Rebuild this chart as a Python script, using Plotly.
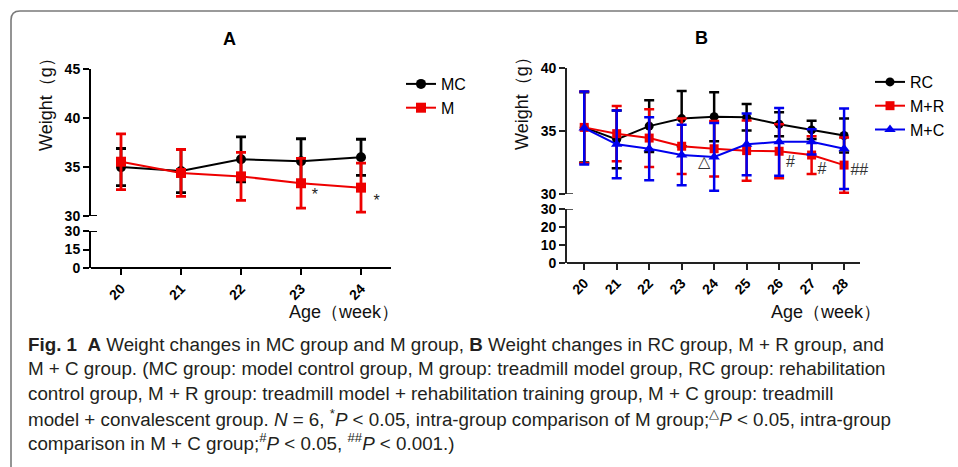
import plotly.graph_objects as go

W, H = 958, 467


def fx(p):
    return p / W


def fy(p):
    return 1 - p / H


# ---------------- data ----------------
weeks_a = [20, 21, 22, 23, 24]
mc_mean = [35.0, 34.6, 35.8, 35.6, 36.0]
mc_sd = [1.9, 2.2, 2.3, 2.3, 1.85]
m_mean = [35.55, 34.4, 34.05, 33.35, 32.9]
m_sd = [2.85, 2.4, 2.45, 2.55, 2.5]

weeks_b = [20, 21, 22, 23, 24, 25, 26, 27, 28]
rc_mean = [35.3, 34.35, 35.4, 36.0, 36.15, 36.1, 35.55, 35.1, 34.65]
rc_sd = [2.8, 2.3, 2.05, 2.2, 1.95, 1.05, 0.95, 0.72, 1.35]
mr_mean = [35.3, 34.8, 34.45, 33.8, 33.6, 33.45, 33.4, 33.1, 32.3]
mr_sd = [2.85, 2.2, 2.3, 2.2, 2.2, 2.4, 2.15, 1.5, 2.2]
mcv_mean = [35.25, 33.95, 33.6, 33.1, 32.95, 33.95, 34.15, 34.15, 33.6]
mcv_sd = [2.9, 2.7, 2.5, 2.4, 2.7, 2.45, 2.7, 1.0, 3.2]

sig_a_x = [23.23, 24.26]
sig_a_y = [32.0, 31.4]
sig_a_text = ["*", "*"]

sig_b_x = [23.68, 26.35, 27.32, 28.47]
sig_b_y = [32.46, 32.46, 31.88, 31.8]
sig_b_text = ["△", "#", "#", "##"]

ticks_a_upper = [30, 35, 40, 45]
ticks_a_lower = [0, 15, 30]
ticks_b_upper = [30, 35, 40]
ticks_b_lower = [0, 10, 20, 30]

caption_lines = [
    "<b>Fig. 1</b>  <b>A</b> Weight changes in MC group and M group, <b>B</b> Weight changes in RC group, M + R group, and",
    "M + C group. (MC group: model control group, M group: treadmill model group, RC group: rehabilitation",
    "control group, M + R group: treadmill model + rehabilitation training group, M + C group: treadmill",
    "model + convalescent group. <i>N</i> = 6, <sup>*</sup><i>P</i> &lt; 0.05, intra-group comparison of M group;<sup>△</sup><i>P</i> &lt; 0.05, intra-group",
    "comparison in M + C group;<sup>#</sup><i>P</i> &lt; 0.05, <sup>##</sup><i>P</i> &lt; 0.001.)",
]

BLACK = "#000000"
RED = "#ee0000"
BLUE = "#0000ee"
FONT = "Liberation Sans"

fig = go.Figure()


def add_series(x, y, sd, color, symbol, size, name, xa, ya, legend, thick):
    fig.add_trace(go.Scatter(
        x=x, y=y, mode="lines+markers", name=name,
        xaxis=xa, yaxis=ya, legend=legend,
        line=dict(color=color, width=2),
        marker=dict(color=color, symbol=symbol, size=size),
        error_y=dict(type="data", array=sd, visible=True, color=color,
                     thickness=thick, width=5),
        cliponaxis=False,
    ))


# Panel A
add_series(weeks_a, mc_mean, mc_sd, BLACK, "circle", 10, "MC", "x", "y", "legend", 2.8)
add_series(weeks_a, m_mean, m_sd, RED, "square", 10, "M", "x", "y", "legend", 2.8)
fig.add_trace(go.Scatter(x=sig_a_x, y=sig_a_y, text=sig_a_text, mode="text",
                         textfont=dict(family=FONT, size=16, color="#222"),
                         xaxis="x", yaxis="y", showlegend=False, cliponaxis=False))
fig.add_trace(go.Scatter(x=[], y=[], xaxis="x", yaxis="y2", showlegend=False))

# Panel B
add_series(weeks_b, rc_mean, rc_sd, BLACK, "circle", 9, "RC", "x2", "y3", "legend2", 2.5)
add_series(weeks_b, mr_mean, mr_sd, RED, "square", 9, "M+R", "x2", "y3", "legend2", 2.5)
add_series(weeks_b, mcv_mean, mcv_sd, BLUE, "triangle-up", 10, "M+C", "x2", "y3", "legend2", 2.5)
fig.add_trace(go.Scatter(x=sig_b_x, y=sig_b_y, text=sig_b_text, mode="text",
                         textfont=dict(family=FONT, size=16, color="#333"),
                         xaxis="x2", yaxis="y3", showlegend=False, cliponaxis=False))
fig.add_trace(go.Scatter(x=[], y=[], xaxis="x2", yaxis="y4", showlegend=False))

tickfont = dict(family=FONT, size=14, color="black", weight="bold")


def xax(dom, rng, pos, vals, lw, lc):
    return dict(domain=dom, range=rng, anchor="free", position=pos,
                tickvals=vals, ticktext=[str(v) for v in vals], tickangle=-45,
                ticks="outside", ticklen=6, tickwidth=lw, tickcolor=lc,
                showline=True, linewidth=lw, linecolor=lc, automargin=False,
                showgrid=False, zeroline=False, tickfont=tickfont)


def yax(dom, rng, anchor, vals, lw, lc):
    return dict(domain=dom, range=rng, anchor=anchor, tickvals=vals,
                ticks="outside", ticklen=6, tickwidth=lw, tickcolor=lc,
                showline=True, linewidth=lw, linecolor=lc, automargin=False,
                showgrid=False, zeroline=False, tickfont=tickfont)


layout = dict(
    width=W, height=H, margin=dict(l=0, r=0, t=0, b=0, autoexpand=False),
    paper_bgcolor="white", plot_bgcolor="rgba(0,0,0,0)",
    xaxis=xax([fx(91), fx(391)], [19.5, 24.5], fy(268), weeks_a, 2, "black"),
    yaxis=yax([fy(216), fy(69.3)], [30, 45], "x", ticks_a_upper, 2, "black"),
    yaxis2=yax([fy(268), fy(231)], [0, 30], "x", ticks_a_lower, 2, "black"),
    xaxis2=xax([fx(567), fx(860)], [19.47, 28.49], fy(262.7), weeks_b, 1.6, "#222"),
    yaxis3=yax([fy(194), fy(68.3)], [30, 40], "x2", ticks_b_upper, 1.6, "#222"),
    yaxis4=yax([fy(262.7), fy(209)], [0, 30], "x2", ticks_b_lower, 1.6, "#222"),
    legend=dict(x=fx(401), y=fy(67), xanchor="left", yanchor="top",
                font=dict(family=FONT, size=16, color="black"),
                itemwidth=30, bgcolor="rgba(0,0,0,0)", tracegroupgap=0),
    legend2=dict(x=fx(870), y=fy(65), xanchor="left", yanchor="top",
                 font=dict(family=FONT, size=16, color="black"),
                 itemwidth=30, bgcolor="rgba(0,0,0,0)", tracegroupgap=0),
    showlegend=True,
)
fig.update_layout(**layout)

ann = []


def add_ann(text, xp, yp, size, color="black", angle=0, xanchor="center", fam=FONT):
    ann.append(dict(text=text, x=fx(xp), y=fy(yp), xref="paper", yref="paper",
                    xanchor=xanchor, yanchor="middle", textangle=angle, showarrow=False,
                    font=dict(family=fam, size=size, color=color)))


add_ann("<b>A</b>", 229, 39, 18)
add_ann("<b>B</b>", 701, 38, 18)
for xc, yc in [(46, 100), (522, 99)]:
    add_ann("Weight（g）", xc, yc, 18, "#111", angle=-90)
for xc in [343.5, 826]:
    add_ann("Age（week）", xc, 312, 18, "#111")

line_y = [344, 368, 393, 418, 442]
for txt, yy in zip(caption_lines, line_y):
    add_ann(txt, 26, yy, 18.8, "#231f20", xanchor="left")
fig.update_layout(annotations=ann)

shapes = []
# axis-break tick extensions to the right of the y axes
for xref, yref, lc, lw in [("x domain", "y", "black", 2), ("x domain", "y2", "black", 2),
                           ("x2 domain", "y3", "#222", 1.6), ("x2 domain", "y4", "#222", 1.6)]:
    shapes.append(dict(type="line", xref=xref, yref=yref, xsizemode="pixel", xanchor=0,
                       x0=0, x1=6, y0=30, y1=30, line=dict(color=lc, width=lw)))
# rounded border of the figure box
x0, yt = fx(11), fy(11)
rx, ry = 9 / W, 9 / H
shapes.append(dict(type="path", xref="paper", yref="paper",
                   path=f"M {x0},-0.02 L {x0},{yt - ry} Q {x0},{yt} {x0 + rx},{yt} L 1.02,{yt}",
                   line=dict(color="#7a7a7a", width=1.6)))
fig.update_layout(shapes=shapes)

fig.write_html("out.html", config={"displayModeBar": False},
               post_script="document.body.style.margin='0';document.body.style.padding='0';")
